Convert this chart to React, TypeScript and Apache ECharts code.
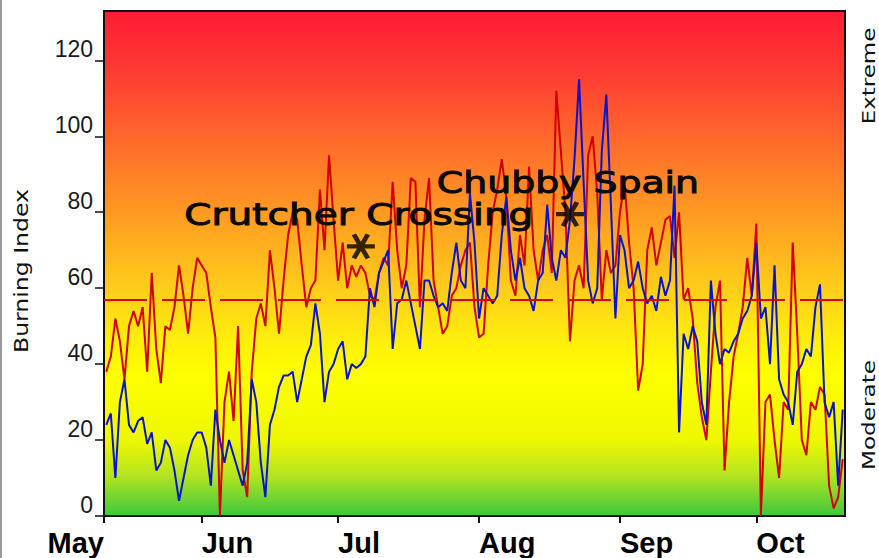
import React, { useEffect, useRef } from 'react';
import * as echarts from 'echarts';

// Day index = days after May 1 (May 1 = 0)
const FIRST_DAY = 10;
const X_MIN = 9.5;
const X_MAX = 172.5;
const START_LABEL = 'May';
const MONTH_LABELS = ['Jun', 'Jul', 'Aug', 'Sep', 'Oct'];
const MONTH_DAYS = [31, 61, 92, 123, 153];
const Y_TICKS = [0, 20, 40, 60, 80, 100, 120];
const Y_MAX = 133;
const AVERAGE = 57;

const RED = [
  38, 42, 52, 46, 36, 50, 54, 50, 55, 38,
  64, 44, 35, 50, 49, 55, 66, 58, 48, 60,
  68, 66, 64, 55, 47, 0, 30, 38, 25, 50,
  12, 5, 38, 52, 56, 50, 70, 60, 48, 62,
  74, 80, 78, 66, 55, 60, 62, 86, 70, 95,
  78, 62, 72, 60, 66, 63, 66, 64, 58, 57,
  64, 68, 66, 88, 70, 60, 66, 89, 88, 55,
  78, 89, 62, 55, 48, 50, 58, 60, 66, 70,
  72, 55, 47, 48, 66, 80, 86, 94, 84, 62,
  58, 74, 66, 92, 70, 62, 70, 74, 64, 112,
  96, 80, 46, 62, 66, 60, 95, 100, 85, 57,
  70, 64, 66, 80, 88, 72, 60, 33, 40, 70,
  76, 66, 72, 78, 79, 68, 80, 57, 60, 52,
  35, 26, 20, 38, 55, 62, 12, 30, 42, 48,
  55, 68, 58, 77, 0, 30, 32, 20, 10, 30,
  28, 72, 48, 20, 16, 30, 28, 34, 32, 8,
  2, 5, 15,
];

const BLUE = [
  24, 27, 10, 30, 36, 24, 22, 25, 26, 19,
  22, 12, 14, 20, 18, 12, 4, 10, 16, 20,
  22, 22, 18, 8, 28, 20, 14, 20, 16, 12,
  8, 14, 36, 30, 14, 5, 24, 28, 34, 37,
  37, 38, 30, 36, 42, 45, 56, 48, 30, 38,
  40, 44, 46, 36, 40, 39, 40, 42, 60, 55,
  64, 67, 70, 44, 56, 57, 62, 56, 50, 44,
  62, 62, 58, 55, 56, 54, 64, 72, 62, 60,
  85, 72, 52, 60, 58, 56, 58, 74, 84, 70,
  62, 68, 60, 58, 54, 62, 64, 82, 68, 62,
  70, 68, 78, 94, 115, 88, 62, 56, 60, 96,
  111, 82, 52, 74, 70, 60, 62, 67, 60, 56,
  58, 54, 63, 58, 62, 87, 22, 48, 44, 50,
  46, 30, 24, 62, 48, 40, 44, 43, 46, 48,
  52, 54, 58, 72, 52, 55, 40, 66, 36, 32,
  30, 24, 38, 40, 44, 42, 55, 61, 30, 26,
  30, 8, 28,
];

const SITES = ['Crutcher Crossing', 'Chubby Spain'];
const SITE_DAYS = [66, 112];
const SITE_VALUES = [71, 79.5];
const SITE_SCALE = [1.3, 1.26];

const SIDE_TOP = 'Extreme';
const SIDE_BOTTOM = 'Moderate';
const Y_NAME = 'Burning Index';

const SANS = "'Liberation Sans', Arial, Helvetica, sans-serif";
const WIDE = "'DejaVu Sans', Verdana, sans-serif";

const STAR = 'path://M-14,0L14,0M-7,-12.12L7,12.12M-7,12.12L7,-12.12';

export default function App() {
  const ref = useRef<HTMLDivElement>(null);

  useEffect(() => {
    if (!ref.current) return;
    const chart = echarts.init(ref.current, null, { renderer: 'svg' });

    const monthName = (v: number) => {
      const i = MONTH_DAYS.indexOf(Math.round(v));
      return i >= 0 ? MONTH_LABELS[i] : '';
    };

    const gradient = new echarts.graphic.LinearGradient(0, 0, 0, 1, [
      { offset: 0, color: '#ff1c34' },
      { offset: 0.12, color: '#ff3b33' },
      { offset: 0.25, color: '#ff672c' },
      { offset: 0.4, color: '#ff9a22' },
      { offset: 0.55, color: '#ffcd1a' },
      { offset: 0.65, color: '#ffee0c' },
      { offset: 0.72, color: '#ffff00' },
      { offset: 0.85, color: '#eef800' },
      { offset: 0.92, color: '#b4e421' },
      { offset: 1, color: '#3cc83c' },
    ]);

    const labelFont = { fontFamily: SANS, color: '#111' };

    chart.setOption({
      animation: false,
      grid: {
        left: 104,
        right: 34,
        top: 11,
        bottom: 42,
        show: true,
        backgroundColor: gradient,
        borderColor: '#111',
        borderWidth: 2,
      },
      xAxis: [
        {
          type: 'value',
          min: X_MIN,
          max: X_MAX,
          position: 'bottom',
          axisLine: { show: true, lineStyle: { color: '#111', width: 2 } },
          axisTick: {
            show: true,
            customValues: [X_MIN, ...MONTH_DAYS],
            length: 7,
            lineStyle: { color: '#111', width: 2 },
          },
          axisLabel: {
            customValues: MONTH_DAYS,
            formatter: (v: number) => monthName(v),
            align: 'left',
            margin: 12,
            fontSize: 29,
            fontWeight: 'bold',
            ...labelFont,
            color: '#000',
          },
          splitLine: { show: false },
        },
        {
          type: 'value',
          min: X_MIN,
          max: X_MAX,
          position: 'bottom',
          axisLine: { show: false },
          axisTick: { show: false },
          axisLabel: {
            customValues: [X_MIN],
            formatter: () => START_LABEL,
            align: 'right',
            margin: 12,
            fontSize: 29,
            fontWeight: 'bold',
            ...labelFont,
            color: '#000',
          },
          splitLine: { show: false },
        },
      ],
      yAxis: {
        type: 'value',
        min: 0,
        max: Y_MAX,
        axisLine: { show: true, lineStyle: { color: '#111', width: 2 } },
        axisTick: {
          show: true,
          customValues: Y_TICKS,
          length: 9,
          lineStyle: { color: '#111', width: 1.5 },
        },
        axisLabel: {
          customValues: Y_TICKS,
          verticalAlign: 'bottom',
          margin: 11,
          fontSize: 23,
          ...labelFont,
          color: '#1a1a1a',
        },
        splitLine: { show: false },
      },
      series: [
        {
          type: 'line',
          name: 'red',
          data: RED.map((v, i) => [FIRST_DAY + i, v]),
          showSymbol: false,
          lineStyle: { color: '#d20000', width: 2 },
          itemStyle: { color: '#d20000' },
          markLine: {
            silent: true,
            symbol: 'none',
            label: { show: false },
            lineStyle: { color: '#e00000', width: 2, type: [43, 15] },
            data: [{ yAxis: AVERAGE }],
          },
          z: 2,
        },
        {
          type: 'line',
          name: 'blue',
          data: BLUE.map((v, i) => [FIRST_DAY + i, v]),
          showSymbol: false,
          lineStyle: { color: '#0a14cc', width: 2 },
          itemStyle: { color: '#0a14cc' },
          z: 3,
        },
        {
          type: 'scatter',
          data: SITE_DAYS.map((d, i) => [d, SITE_VALUES[i]]),
          symbol: STAR,
          symbolSize: [28, 24],
          itemStyle: { color: '#000', borderColor: '#000', borderWidth: 4.5 },
          z: 5,
        },
      ],
    });

    const graphics: any[] = [
      {
        type: 'line',
        shape: { x1: 1, y1: 0, x2: 1, y2: 558 },
        style: { stroke: '#9a9a9a', lineWidth: 2 },
      },
      {
        type: 'text',
        x: 21,
        y: 271,
        rotation: Math.PI / 2,
        scaleX: 1.24,
        style: {
          text: Y_NAME,
          fontSize: 19,
          fontFamily: WIDE,
          fill: '#111',
          align: 'center',
          verticalAlign: 'middle',
        },
      },
      {
        type: 'text',
        x: 869,
        y: 76,
        rotation: Math.PI / 2,
        scaleX: 1.35,
        style: {
          text: SIDE_TOP,
          fontSize: 17,
          fontFamily: WIDE,
          fill: '#111',
          align: 'center',
          verticalAlign: 'middle',
        },
      },
      {
        type: 'text',
        x: 869,
        y: 415,
        rotation: Math.PI / 2,
        scaleX: 1.36,
        style: {
          text: SIDE_BOTTOM,
          fontSize: 17,
          fontFamily: WIDE,
          fill: '#111',
          align: 'center',
          verticalAlign: 'middle',
        },
      },
    ];

    SITES.forEach((name, i) => {
      const p = chart.convertToPixel({ gridIndex: 0 }, [SITE_DAYS[i], SITE_VALUES[i]]) as number[];
      graphics.push({
        type: 'text',
        x: p[0] - 2,
        y: p[1] - 32,
        scaleX: SITE_SCALE[i],
        z: 100,
        style: {
          text: name,
          fontSize: 30,
          fontFamily: WIDE,
          fill: '#0a0a0a',
          stroke: '#0a0a0a',
          lineWidth: 1,
          align: 'center',
          verticalAlign: 'middle',
        },
      });
    });

    chart.setOption({ graphic: graphics });

    return () => chart.dispose();
  }, []);

  return (
    <div
      ref={ref}
      style={{ position: 'fixed', left: 0, top: 0, width: 879, height: 558, background: '#fff' }}
    />
  );
}
